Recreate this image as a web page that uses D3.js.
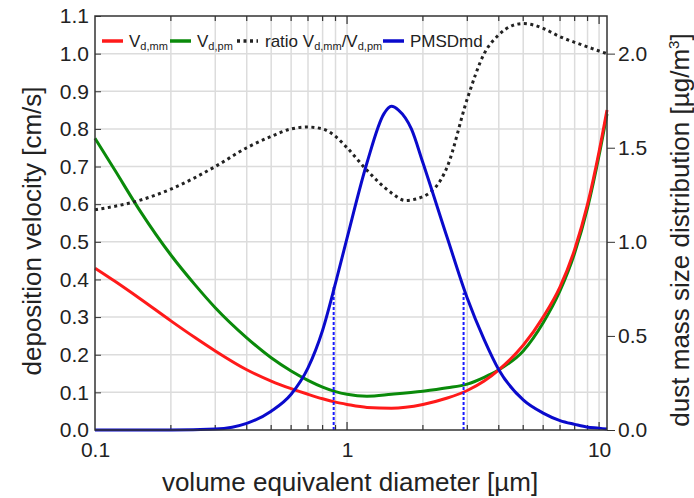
<!DOCTYPE html>
<html>
<head>
<meta charset="utf-8">
<script src="https://cdn.jsdelivr.net/npm/d3@7"></script>
<style>
  body { margin: 0; background: #fff; }
  text { font-family: "Liberation Sans", Arial, sans-serif; fill: #222; }
</style>
</head>
<body>
<div id="chart"></div>
<script>
// diameters (µm) and values
var diam = [0.1, 0.12, 0.15, 0.2, 0.25, 0.3, 0.4, 0.5, 0.6, 0.7, 0.8, 0.9, 1.0, 1.2, 1.5, 2.0, 2.5, 3.0, 3.5, 4.0, 5.0, 6.0, 7.0, 8.0, 9.0, 10.0, 10.75];
var vdMM = [0.43, 0.395, 0.35, 0.29, 0.245, 0.21, 0.16, 0.13, 0.11, 0.095, 0.083, 0.074, 0.068, 0.06, 0.058, 0.068, 0.085, 0.105, 0.13, 0.16, 0.225, 0.30, 0.38, 0.48, 0.60, 0.74, 0.85];
var vdPM = [0.775, 0.69, 0.585, 0.465, 0.385, 0.325, 0.245, 0.192, 0.157, 0.132, 0.114, 0.102, 0.095, 0.09, 0.095, 0.103, 0.112, 0.122, 0.14, 0.16, 0.21, 0.285, 0.37, 0.47, 0.59, 0.73, 0.84];

var ratioDiam = [0.1, 0.15, 0.2, 0.3, 0.4, 0.5, 0.6, 0.7, 0.8, 0.9, 1.0, 1.2, 1.5, 1.7, 2.0, 2.5, 3.0, 3.5, 4.0, 4.5, 5.0, 5.5, 6.0, 7.0, 8.0, 9.0, 10.0, 10.75];
var ratio = [0.585, 0.61, 0.64, 0.70, 0.75, 0.78, 0.80, 0.805, 0.80, 0.78, 0.75, 0.69, 0.63, 0.61, 0.62, 0.70, 0.88, 1.0, 1.05, 1.074, 1.08, 1.076, 1.067, 1.045, 1.03, 1.018, 1.007, 1.0];

var pmsdDiam = [0.1, 0.2, 0.3, 0.35, 0.4, 0.5, 0.6, 0.7, 0.8, 0.9, 1.0, 1.2, 1.4, 1.5, 1.6, 1.8, 2.0, 2.5, 3.0, 3.5, 4.0, 5.0, 6.0, 7.0, 8.0, 9.0, 10.0, 10.75];
var pmsd = [0, 0, 0.005, 0.015, 0.035, 0.10, 0.19, 0.33, 0.53, 0.78, 1.02, 1.42, 1.68, 1.72, 1.70, 1.60, 1.42, 1.02, 0.70, 0.48, 0.32, 0.16, 0.09, 0.05, 0.03, 0.015, 0.01, 0.005];

// dashed markers under the PMSD curve
var markDiam = [0.885, 2.9];
var markVal = [0.77, 0.73];

var leftTicks = [0.0, 0.1, 0.2, 0.3, 0.4, 0.5, 0.6, 0.7, 0.8, 0.9, 1.0, 1.1];
var rightTicks = [0.0, 0.5, 1.0, 1.5, 2.0];
var xLabelTicks = [0.1, 1, 10];

var svgWidth = 694, svgHeight = 498;
var margin = {top: 16, right: 87, bottom: 68, left: 95};
var width = svgWidth - margin.left - margin.right;
var height = svgHeight - margin.top - margin.bottom;

var svg = d3.select("#chart").append("svg")
  .attr("width", svgWidth)
  .attr("height", svgHeight);

var g = svg.append("g")
  .attr("transform", `translate(${margin.left}, ${margin.top})`);

var x = d3.scaleLog().domain([0.1, 10.75]).range([0, width]);
var yL = d3.scaleLinear().domain([0, 1.1]).range([height, 0]);
var yR = d3.scaleLinear().domain([0, 2.2]).range([height, 0]);

// minor log ticks
var minorX = [];
[0.1, 1, 10].forEach(function(dec) {
  for (var k = 1; k <= 9; k++) {
    var v = dec * k;
    if (v > 0.1 && v <= 10.75) minorX.push(v);
  }
});

// grid
g.append("g").selectAll("line.vg")
  .data(minorX)
  .enter().append("line")
  .attr("x1", d => x(d)).attr("x2", d => x(d))
  .attr("y1", 0).attr("y2", height)
  .attr("stroke", "#dcdcdc").attr("stroke-width", 1.5);

g.append("g").selectAll("line.hg")
  .data(leftTicks.slice(1, -1))
  .enter().append("line")
  .attr("x1", 0).attr("x2", width)
  .attr("y1", d => yL(d)).attr("y2", d => yL(d))
  .attr("stroke", "#dcdcdc").attr("stroke-width", 1.5);

// axes
var bottomAxis = d3.axisBottom(x).tickValues(xLabelTicks).tickFormat(d3.format("")).tickSize(0).tickPadding(12);
g.append("g")
  .attr("transform", `translate(0, ${height})`)
  .call(bottomAxis)
  .call(a => a.select(".domain").remove())
  .selectAll("text").style("font-size", "21px").attr("fill", "#222");

// inner ticks on bottom and top
var tickG = g.append("g").attr("stroke", "#333").attr("stroke-width", 1.2);
minorX.forEach(function(v) {
  var len = (v === 1 || v === 10) ? 8 : 5;
  tickG.append("line").attr("x1", x(v)).attr("x2", x(v)).attr("y1", height).attr("y2", height - len);
  tickG.append("line").attr("x1", x(v)).attr("x2", x(v)).attr("y1", 0).attr("y2", len);
});

var leftAxis = d3.axisLeft(yL).tickValues(leftTicks).tickFormat(d3.format(".1f")).tickSize(-6).tickPadding(6);
g.append("g")
  .call(leftAxis)
  .call(a => a.select(".domain").remove())
  .call(a => a.selectAll("line").attr("stroke", "#333"))
  .selectAll("text").style("font-size", "21px").attr("fill", "#222");

var rightAxis = d3.axisRight(yR).tickValues(rightTicks).tickFormat(d3.format(".1f")).tickSize(8).tickPadding(3);
g.append("g")
  .attr("transform", `translate(${width}, 0)`)
  .call(rightAxis)
  .call(a => a.select(".domain").remove())
  .call(a => a.selectAll("line").attr("stroke", "#333"))
  .selectAll("text").style("font-size", "21px").attr("fill", "#222");

// lines
var lineL = d3.line().x(d => x(d[0])).y(d => yL(d[1])).curve(d3.curveMonotoneX);
var lineR = d3.line().x(d => x(d[0])).y(d => yR(d[1])).curve(d3.curveMonotoneX);

g.append("path")
  .datum(diam.map((d, i) => [d, vdPM[i]]))
  .attr("d", lineL).attr("fill", "none")
  .attr("stroke", "#0a8a0a").attr("stroke-width", 3);

g.append("path")
  .datum(diam.map((d, i) => [d, vdMM[i]]))
  .attr("d", lineL).attr("fill", "none")
  .attr("stroke", "#ff1a1a").attr("stroke-width", 3);

g.append("path")
  .datum(ratioDiam.map((d, i) => [d, ratio[i]]))
  .attr("d", lineL).attr("fill", "none")
  .attr("stroke", "#222").attr("stroke-width", 3)
  .attr("stroke-dasharray", "3,3.5");

g.selectAll("line.mark")
  .data(markDiam)
  .enter().append("line")
  .attr("x1", d => x(d)).attr("x2", d => x(d))
  .attr("y1", height).attr("y2", (d, i) => yR(markVal[i]))
  .attr("stroke", "#1a1aff").attr("stroke-width", 2)
  .attr("stroke-dasharray", "3,2");

g.append("path")
  .datum(pmsdDiam.map((d, i) => [d, pmsd[i]]))
  .attr("d", lineR).attr("fill", "none")
  .attr("stroke", "#0a0acc").attr("stroke-width", 3);

// frame
g.append("rect")
  .attr("width", width).attr("height", height)
  .attr("fill", "none").attr("stroke", "#333").attr("stroke-width", 1.5);

// legend
var legend = g.append("g").attr("transform", "translate(0, 25)");
var legItems = [
  {x: 7, color: "#ff1a1a", dash: null},
  {x: 75, color: "#0a8a0a", dash: null},
  {x: 142, color: "#222", dash: "3,3.5"},
  {x: 288, color: "#0a0acc", dash: null}
];
legItems.forEach(function(it) {
  legend.append("line")
    .attr("x1", it.x).attr("x2", it.x + 21)
    .attr("y1", 0).attr("y2", 0)
    .attr("stroke", it.color).attr("stroke-width", 3.5)
    .attr("stroke-dasharray", it.dash);
});
function vsub(t, sub) {
  t.append("tspan").text("V");
  t.append("tspan").text(sub).style("font-size", "11px").attr("dy", 3);
}
var t1 = legend.append("text").attr("x", 34).attr("y", 6).style("font-size", "17px");
vsub(t1, "d,mm");
var t2 = legend.append("text").attr("x", 102).attr("y", 6).style("font-size", "17px");
vsub(t2, "d,pm");
var t3 = legend.append("text").attr("x", 170).attr("y", 6).style("font-size", "17px");
t3.append("tspan").text("ratio V");
t3.append("tspan").text("d,mm").style("font-size", "11px").attr("dy", 3);
t3.append("tspan").text("/V").attr("dy", -3);
t3.append("tspan").text("d,pm").style("font-size", "11px").attr("dy", 3);
legend.append("text").attr("x", 315).attr("y", 6).style("font-size", "17px").text("PMSDmd");

// axis titles
svg.append("text")
  .attr("x", margin.left + x(1) + 3).attr("y", 491)
  .attr("text-anchor", "middle").style("font-size", "26px")
  .text("volume equivalent diameter [µm]");

svg.append("text")
  .attr("transform", `translate(41, ${margin.top + height / 2 + 8}) rotate(-90)`)
  .attr("text-anchor", "middle").style("font-size", "26px")
  .text("deposition velocity [cm/s]");

var rt = svg.append("text")
  .attr("transform", `translate(689, ${margin.top + height / 2 + 7}) rotate(-90)`)
  .attr("text-anchor", "middle").style("font-size", "26px");
rt.append("tspan").text("dust mass size distribution [µg/m");
rt.append("tspan").text("3").style("font-size", "15px").attr("dy", -10);
rt.append("tspan").text("]").attr("dy", 10);
</script>
</body>
</html>
